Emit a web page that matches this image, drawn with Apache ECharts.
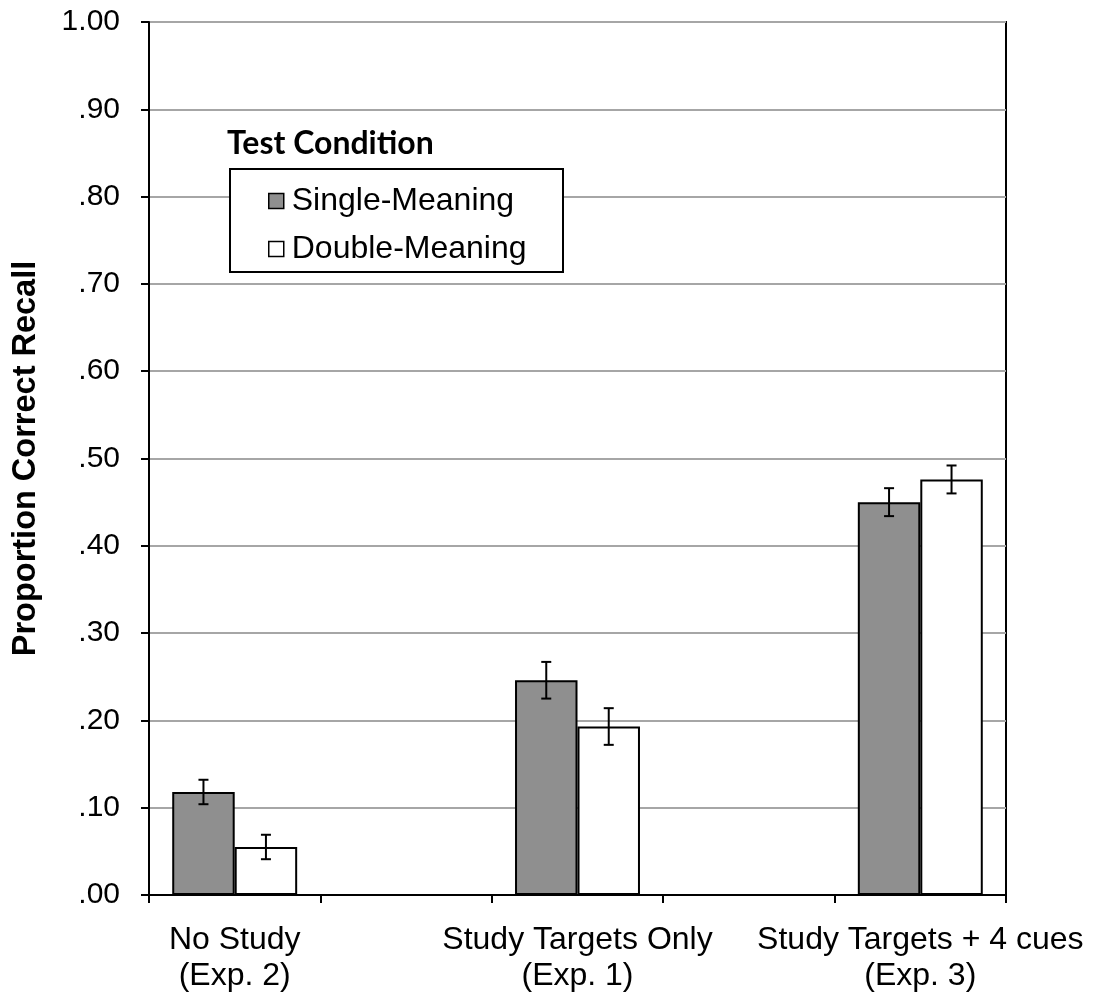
<!DOCTYPE html>
<html>
<head>
<meta charset="utf-8">
<script src="https://cdn.jsdelivr.net/npm/echarts@6/dist/echarts.min.js"></script>
<style>
  html, body { margin: 0; padding: 0; background: #fff; }
  #chart { width: 1093px; height: 1000px; }
</style>
</head>
<body>
<div id="chart"></div>
<script>
// Study conditions (one bar pair per condition)
const categories = ['No Study\n(Exp. 2)', 'Study Targets Only\n(Exp. 1)', 'Study Targets + 4 cues\n(Exp. 3)'];
// Mean proportion correct recall by test condition
const singleMeaning = [0.118, 0.246, 0.450];
const doubleMeaning = [0.055, 0.193, 0.476];
// Standard error of each mean
const singleErr = [0.014, 0.021, 0.016];
const doubleErr = [0.014, 0.021, 0.016];
// Y axis tick labels, .00 through 1.00
const yTickLabels = ['.00', '.10', '.20', '.30', '.40', '.50', '.60', '.70', '.80', '.90', '1.00'];

const seriesNames = ['Single-Meaning', 'Double-Meaning'];
const CAT_GAP = 0.271;
const FONT = '"Liberation Sans", Arial, Helvetica, sans-serif';

// Conditions sit on every other slot of the axis, with empty slots between them
const axisData = [];
const slotOf = [];
categories.forEach((c, i) => {
  if (i > 0) axisData.push('');
  slotOf.push(axisData.length);
  axisData.push(c);
});
const spread = arr => {
  const out = axisData.map(() => null);
  arr.forEach((v, i) => { out[slotOf[i]] = v; });
  return out;
};
const errData = (vals, errs) => vals.map((v, i) => [slotOf[i], v, errs[i]]);

function errorBarRenderer(side) {
  return function (params, api) {
    const slot = api.value(0), v = api.value(1), e = api.value(2);
    const bw = api.size([1, 0])[0] * (1 - CAT_GAP) / 2;
    const hi = api.coord([slot, v + e]);
    const lo = api.coord([slot, v - e]);
    const x = hi[0] + side * bw / 2;
    const cap = 5;
    const style = { stroke: '#000', lineWidth: 2 };
    return {
      type: 'group',
      children: [
        { type: 'line', shape: { x1: x, y1: hi[1], x2: x, y2: lo[1] }, style },
        { type: 'line', shape: { x1: x - cap, y1: hi[1], x2: x + cap, y2: hi[1] }, style },
        { type: 'line', shape: { x1: x - cap, y1: lo[1], x2: x + cap, y2: lo[1] }, style }
      ]
    };
  };
}

const chart = echarts.init(document.getElementById('chart'), null, { renderer: 'canvas' });
chart.setOption({
  animation: false,
  title: {
    text: 'Test Condition',
    left: 227, top: 125, padding: 0,
    textStyle: { fontFamily: 'Lato, "Open Sans", sans-serif', fontWeight: 'bold', fontSize: 32, lineHeight: 38, color: '#000' }
  },
  graphic: [{
    type: 'rect', z: 1,
    shape: { x: 230, y: 169, width: 333, height: 103 },
    style: { fill: '#fff', stroke: '#000', lineWidth: 2 }
  }],
  legend: {
    z: 5,
    data: seriesNames,
    orient: 'vertical',
    left: 268, top: 183,
    padding: 0,
    itemGap: 12,
    itemWidth: 15, itemHeight: 15,
    icon: 'rect',
    textStyle: { fontFamily: FONT, fontSize: 32, lineHeight: 36, color: '#000', padding: [0, 0, 0, 3] },
    itemStyle: { borderColor: '#000', borderWidth: 1.5 }
  },
  grid: {
    left: 149, right: 87, top: 22, bottom: 105,
    show: true, borderColor: '#000', borderWidth: 2, backgroundColor: 'transparent'
  },
  xAxis: {
    type: 'category',
    data: axisData,
    axisLine: { lineStyle: { color: '#000', width: 2 } },
    axisTick: { show: true, length: 8, alignWithLabel: false, lineStyle: { color: '#000', width: 2 } },
    axisLabel: { interval: 0, margin: 27, color: '#000', fontFamily: FONT, fontSize: 32, lineHeight: 36 },
    splitLine: { show: false }
  },
  yAxis: {
    type: 'value',
    min: 0, max: 1, interval: 0.1,
    name: 'Proportion Correct Recall',
    nameLocation: 'middle',
    nameRotate: 90,
    nameGap: 106,
    nameTextStyle: { fontFamily: FONT, fontWeight: 'bold', fontSize: 32.5, color: '#000' },
    axisLine: { show: true, lineStyle: { color: '#000', width: 2 } },
    axisTick: { show: true, length: 8, lineStyle: { color: '#000', width: 2 } },
    axisLabel: {
      margin: 29, color: '#000', fontFamily: FONT, fontSize: 30,
      formatter: v => yTickLabels[Math.round(v * 10)]
    },
    splitLine: { show: true, lineStyle: { color: '#A6A6A6', width: 2 } }
  },
  series: [
    {
      name: seriesNames[0], type: 'bar', data: spread(singleMeaning),
      barGap: '0%', barCategoryGap: (CAT_GAP * 100) + '%',
      itemStyle: { color: '#8F8F8F', borderColor: '#000', borderWidth: 2 }
    },
    {
      name: seriesNames[1], type: 'bar', data: spread(doubleMeaning),
      barGap: '0%', barCategoryGap: (CAT_GAP * 100) + '%',
      itemStyle: { color: '#FFFFFF', borderColor: '#000', borderWidth: 2 }
    },
    {
      type: 'custom', z: 4, renderItem: errorBarRenderer(-1),
      data: errData(singleMeaning, singleErr)
    },
    {
      type: 'custom', z: 4, renderItem: errorBarRenderer(1),
      data: errData(doubleMeaning, doubleErr)
    }
  ]
});
</script>
</body>
</html>
